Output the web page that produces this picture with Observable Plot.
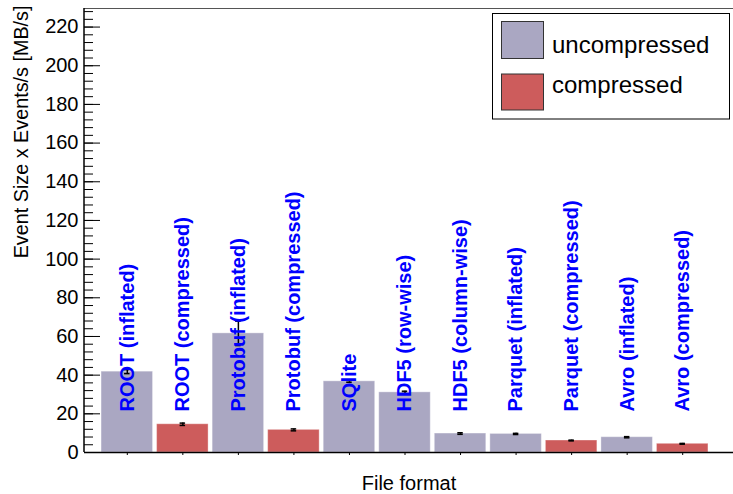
<!DOCTYPE html>
<html>
<head>
<meta charset="utf-8">
<script src="https://cdn.jsdelivr.net/npm/d3@7"></script>
<script src="https://cdn.jsdelivr.net/npm/@observablehq/plot@0.6"></script>
<style>
  html, body { margin: 0; padding: 0; background: #fff; }
  #wrap { position: relative; width: 733px; height: 494px; font-family: "Liberation Sans", Arial, Helvetica, sans-serif; }
  #legend { position: absolute; left: 0; top: 0; pointer-events: none; }
</style>
</head>
<body>
<div id="wrap"></div>
<script>
// ---- data ----
const names = ["ROOT (inflated)", "ROOT (compressed)", "Protobuf (inflated)", "Protobuf (compressed)", "SQlite",
  "HDF5 (row-wise)", "HDF5 (column-wise)", "Parquet (inflated)", "Parquet (compressed)", "Avro (inflated)", "Avro (compressed)"];
const kinds = ["uncompressed", "compressed", "uncompressed", "compressed", "uncompressed",
  "uncompressed", "uncompressed", "uncompressed", "compressed", "uncompressed", "compressed"];
const values = [41.8, 14.6, 61.6, 11.7, 36.8, 31.1, 9.8, 9.6, 6.2, 7.9, 4.5];
const errors = [1.0, 0.6, 6.3, 0.5, 0.5, 0.6, 0.4, 0.3, 0.2, 0.3, 0.2];
const yTicks = d3.range(0, 221, 20);
const yMinor = d3.range(0, 230, 4);
const yMax = 229.6;
const yTitle = "Event Size x Events/s [MB/s]";
const xTitle = "File format";
const legendKeys = ["uncompressed", "compressed"];
const colors = {uncompressed: "#aaa7c2", compressed: "#cd5c5c"};

const data = names.map((n, i) => ({name: n, kind: kinds[i], value: values[i], err: errors[i]}));

const W = 733, H = 494, ML = 84, MR = 0, MT = 8, MB = 42;
const font = "Liberation Sans, Arial, Helvetica, sans-serif";

const chart = Plot.plot({
  width: W, height: H,
  marginLeft: ML, marginRight: MR, marginTop: MT, marginBottom: MB,
  style: {fontFamily: font, background: "#fff"},
  x: {domain: names, range: [97, 712], padding: 0.073, round: false, axis: null},
  y: {domain: [0, yMax], axis: null},
  marks: [
    Plot.barY(data, {x: "name", y: "value", fill: d => colors[d.kind], stroke: "#ffffff", strokeOpacity: 0.35, strokeWidth: 1}),
    Plot.ruleX(data, {x: "name", y1: d => d.value - d.err, y2: d => d.value + d.err, stroke: "#000", strokeWidth: 1.5}),
    Plot.tickY(data, {x: "name", y: d => d.value - d.err, stroke: "#000", strokeWidth: 1.5, insetLeft: 23, insetRight: 23}),
    Plot.tickY(data, {x: "name", y: d => d.value + d.err, stroke: "#000", strokeWidth: 1.5, insetLeft: 23, insetRight: 23}),
    Plot.text(data, {x: "name", text: "name", frameAnchor: "bottom", dy: -41, rotate: -90,
      textAnchor: "start", lineAnchor: "middle", fill: "#0000ff", fontWeight: "bold", fontSize: 20, fontFamily: font}),
    // top frame line
    Plot.ruleY([yMax], {stroke: "#555", strokeWidth: 1.2}),
    // y ticks (inside)
    Plot.ruleY(yMinor, {stroke: "#000", strokeWidth: 1, insetRight: (W - ML - MR) - 9}),
    Plot.ruleY(yTicks, {stroke: "#000", strokeWidth: 1, insetRight: (W - ML - MR) - 16}),
    Plot.axisY({ticks: yTicks, tickSize: 0, tickPadding: 6, fontSize: 20, fill: "#000", label: null}),
    Plot.text([yTitle], {frameAnchor: "top-left", rotate: -90, textAnchor: "end", lineAnchor: "middle",
      dx: -63, dy: -3, fontSize: 19.8, fill: "#000", fontFamily: font}),
    Plot.axisX({tickSize: 3, tickFormat: () => "", label: null}),
    Plot.text([xTitle], {frameAnchor: "bottom", lineAnchor: "middle", dy: 31, fontSize: 20, fill: "#000", fontFamily: font}),
    Plot.ruleY([0], {stroke: "#000", strokeWidth: 1.5})
  ]
});

document.getElementById("wrap").appendChild(chart);

// left axis line, placed through the y scale
const ys = chart.scale("y");
const svgNS = "http://www.w3.org/2000/svg";
const lineL = document.createElementNS(svgNS, "line");
lineL.setAttribute("x1", ML); lineL.setAttribute("x2", ML);
lineL.setAttribute("y1", ys.apply(0)); lineL.setAttribute("y2", ys.apply(yMax));
lineL.setAttribute("stroke", "#000"); lineL.setAttribute("stroke-width", 1.5);
chart.appendChild(lineL);

// legend overlay
const lg = d3.select("#wrap").append("svg").attr("id", "legend").attr("width", W).attr("height", H);
lg.append("rect").attr("x", 492.5).attr("y", 13.5).attr("width", 237).attr("height", 105.5)
  .attr("fill", "#fff").attr("stroke", "#000").attr("stroke-width", 1);
const rows = [{y: 21.5, h: 37, ty: 52.5}, {y: 74, h: 36, ty: 92.5}];
legendKeys.forEach((k, i) => {
  lg.append("rect").attr("x", 501.5).attr("y", rows[i].y).attr("width", 42).attr("height", rows[i].h)
    .attr("fill", colors[k]).attr("stroke", "#333").attr("stroke-width", 1);
  lg.append("text").attr("x", 552).attr("y", rows[i].ty).attr("font-size", 24)
    .attr("font-family", font).attr("fill", "#000").text(k);
});
</script>
</body>
</html>
